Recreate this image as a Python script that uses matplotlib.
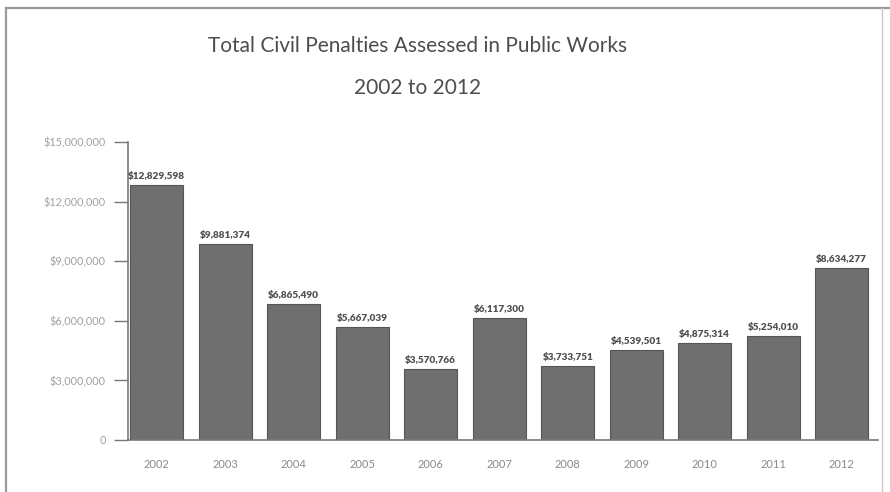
import matplotlib
matplotlib.use("Agg")
import matplotlib.pyplot as plt
from matplotlib.lines import Line2D
from matplotlib.ticker import FuncFormatter

years = ["2002", "2003", "2004", "2005", "2006", "2007", "2008", "2009", "2010", "2011", "2012"]
penalties = [12829598, 9881374, 6865490, 5667039, 3570766, 6117300,
             3733751, 4539501, 4875314, 5254010, 8634277]
yticks = [0, 3000000, 6000000, 9000000, 12000000, 15000000]

plt.rcParams["font.family"] = ["Lato", "DejaVu Sans"]

fig = plt.figure(figsize=(8.9, 4.92), dpi=100)
fig.patch.set_facecolor("white")

# page frame lines
fig.add_artist(Line2D([6 / 890, 890 / 890], [1 - 8 / 492, 1 - 8 / 492],
                      transform=fig.transFigure, color="#9a9a9a", lw=1.6))
fig.add_artist(Line2D([6 / 890, 6 / 890], [0, 1 - 8 / 492],
                      transform=fig.transFigure, color="#9a9a9a", lw=1.6))
fig.add_artist(Line2D([882 / 890, 882 / 890], [0, 1 - 8 / 492],
                      transform=fig.transFigure, color="#c8c8c8", lw=1.0))

ax = fig.add_axes([128 / 890, 52 / 492, 750 / 890, 298 / 492])
x = range(len(years))
ax.bar(x, penalties, width=0.77, color="#6f6f6f", edgecolor="#555555", linewidth=0.8)

for xi, v in zip(x, penalties):
    ax.text(xi, v + 200000, f"${v:,.0f}", ha="center", va="bottom",
            fontsize=7.2, fontweight="heavy", color="#505050")

ax.set_xlim(-0.42, 10.53)
ax.set_ylim(0, 15000000)
ax.set_yticks(yticks)
ax.yaxis.set_major_formatter(FuncFormatter(lambda v, p: "0" if v == 0 else f"${v:,.0f}"))
ax.set_xticks(list(x))
ax.set_xticklabels(years)

ax.tick_params(axis="y", length=10, width=1, color="#777777", labelsize=7.8,
               labelcolor="#a0a0a0", pad=6)
ax.tick_params(axis="x", length=0, labelsize=8, labelcolor="#8a8a8a", pad=14)

for side in ("top", "right"):
    ax.spines[side].set_visible(False)
for side in ("left", "bottom"):
    ax.spines[side].set_color("#7a7a7a")
    ax.spines[side].set_linewidth(1.2)

fig.text(418 / 890, 1 - 46 / 492, "Total Civil Penalties Assessed in Public Works",
         ha="center", va="center", fontsize=15, color="#4d4d4d")
fig.text(418 / 890, 1 - 88 / 492, "2002 to 2012",
         ha="center", va="center", fontsize=15, color="#4d4d4d")

fig.savefig("out.png", dpi=100)
